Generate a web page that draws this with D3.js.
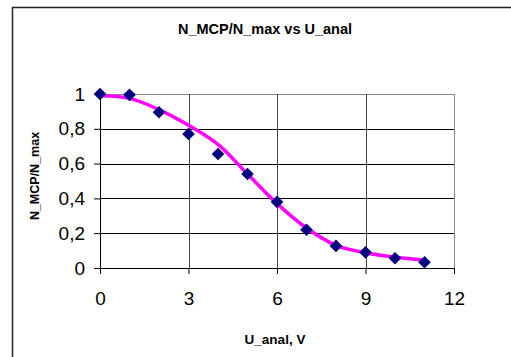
<!DOCTYPE html>
<html>
<head>
<meta charset="utf-8">
<script src="https://cdn.jsdelivr.net/npm/d3@7"></script>
<style>
body { margin: 0; background: #fff; }
text { font-family: "Liberation Sans", Arial, sans-serif; }
</style>
</head>
<body>
<div id="chart"></div>
<script>
// Measured points
var uAnal = [0, 1, 2, 3, 4, 5, 6, 7, 8, 9, 10, 11];
var nRatio = [1.0, 0.995, 0.895, 0.77, 0.655, 0.54, 0.38, 0.22, 0.127, 0.09, 0.056, 0.033];
// Smoothed fit curve
var fitRatio = [0.99, 0.975, 0.91, 0.82, 0.71, 0.54, 0.37, 0.23, 0.13, 0.088, 0.063, 0.045];

var xTicks = [0, 3, 6, 9, 12];
var yTicks = [0, 0.2, 0.4, 0.6, 0.8, 1];

var titleText = "N_MCP/N_max vs U_anal";
var xLabel = "U_anal, V";
var yLabel = "N_MCP/N_max";

// canvas and plot area
var W = 511, H = 357;
var margin = {top: 94, right: 57, bottom: 89, left: 100},
width = W - margin.left - margin.right,
height = H - margin.top - margin.bottom;

var xScale = d3.scaleLinear().domain([0, 12]).range([0, width]);
var yScale = d3.scaleLinear().domain([0, 1]).range([height, 0]);

var fmt = function(d) { return d3.format("~g")(d).replace(".", ","); };

var svg = d3.select("#chart").append("svg")
.attr("width", W)
.attr("height", H);

svg.append("rect")
.attr("width", W).attr("height", H)
.attr("fill", "#fff");

// outer frame
svg.append("rect")
.attr("x", 12.5).attr("y", 7.5)
.attr("width", W + 20).attr("height", H + 20)
.attr("fill", "none")
.attr("stroke", "#222")
.attr("stroke-width", 1.5);

svg.append("text")
.attr("x", 265).attr("y", 34)
.attr("text-anchor", "middle")
.style("font-size", "14.5px")
.style("font-weight", "bold")
.text(titleText);

var g = svg.append("g")
.attr("transform", "translate(" + margin.left + "," + margin.top + ")");

// horizontal grid
g.append("g")
.selectAll("line")
.data(yTicks.filter(function(d) { return d > 0; }))
.enter().append("line")
.attr("x1", 0).attr("x2", width)
.attr("y1", function(d) { return Math.round(yScale(d)) + 0.5; })
.attr("y2", function(d) { return Math.round(yScale(d)) + 0.5; })
.attr("stroke", function(d) { return d === 1 ? "#888" : "#000"; });

// vertical grid
g.append("g")
.selectAll("line")
.data(xTicks.filter(function(d) { return d > 0; }))
.enter().append("line")
.attr("y1", 0).attr("y2", height)
.attr("x1", function(d) { return Math.round(xScale(d)) + 0.5; })
.attr("x2", function(d) { return Math.round(xScale(d)) + 0.5; })
.attr("stroke", function(d) { return d === 12 ? "#888" : "#444"; });

// axes
var xAxis = d3.axisBottom(xScale).tickValues(xTicks).tickSize(6).tickPadding(18).tickFormat(fmt);
var yAxis = d3.axisLeft(yScale).tickValues(yTicks).tickSize(6).tickPadding(9).tickFormat(fmt);

var eixoX = g.append("g")
.attr("transform", "translate(0," + height + ")")
.call(xAxis);
var eixoY = g.append("g")
.call(yAxis);

[eixoX, eixoY].forEach(function(ax) {
  ax.select(".domain").attr("stroke", "#000");
  ax.selectAll(".tick line").attr("stroke", "#000");
  ax.selectAll(".tick text")
  .attr("fill", "#000")
  .style("font-family", "'Liberation Sans', Arial, sans-serif")
  .style("font-size", "19px");
});

// fit line
var valueline = d3.line()
.x(function(d, i) { return xScale(uAnal[i]); })
.y(function(d) { return yScale(d); })
.curve(d3.curveCatmullRom);

g.append("path")
.attr("d", valueline(fitRatio))
.attr("fill", "none")
.attr("stroke", "#ff00ff")
.attr("stroke-width", 3.5);

// diamond markers
var diamond = d3.symbol().type(d3.symbolSquare).size(80);
g.append("g")
.selectAll("path")
.data(nRatio)
.enter().append("path")
.attr("d", diamond)
.attr("transform", function(d, i) {
  return "translate(" + xScale(uAnal[i]) + "," + yScale(d) + ") rotate(45)";
})
.attr("fill", "#000080");

// axis labels
svg.append("text")
.attr("x", 275).attr("y", 344)
.attr("text-anchor", "middle")
.style("font-size", "13.5px")
.style("font-weight", "bold")
.text(xLabel);

svg.append("text")
.attr("transform", "translate(38.5,176) rotate(-90)")
.attr("text-anchor", "middle")
.style("font-size", "12.5px")
.style("font-weight", "bold")
.text(yLabel);
</script>
</body>
</html>
